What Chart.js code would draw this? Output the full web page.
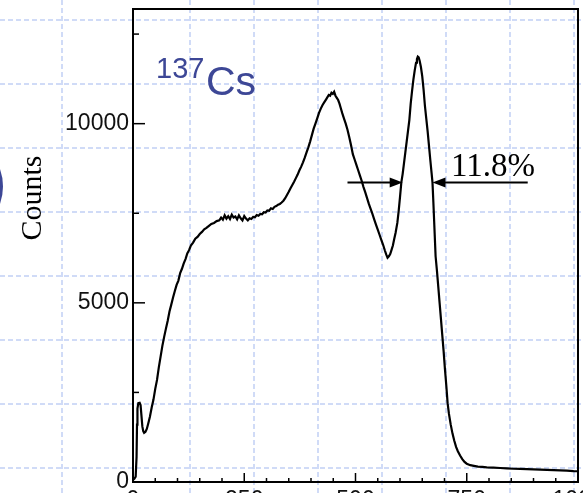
<!DOCTYPE html>
<html>
<head>
<meta charset="utf-8">
<script src="https://cdn.jsdelivr.net/npm/chart.js@4.4.1/dist/chart.umd.min.js"></script>
<style>
  html, body { margin: 0; padding: 0; background: #fff; overflow: hidden; }
  #wrap { position: relative; width: 583px; height: 520px; }
</style>
</head>
<body>
<div id="wrap"><canvas id="spectrum"></canvas></div>
<script>
// 137Cs spectrum, channel vs counts
const channels = [0, 3, 6, 8, 9, 10, 12, 15, 17, 19, 21, 23, 25, 28, 31, 34, 38, 42, 46, 50,
  54, 58, 62, 66, 70, 74, 78, 82, 86, 90, 94, 98, 102, 106, 110, 114, 118, 122, 126, 130,
  135, 140, 145, 150, 155, 160, 165, 170, 176, 182, 188, 194, 198, 202, 206, 210, 214, 218, 222, 226,
  230, 234, 238, 242, 246, 250, 254, 258, 262, 266, 270, 274, 278, 282, 286, 290, 294, 298, 302, 306,
  310, 314, 318, 322, 326, 330, 334, 338, 342, 346, 350, 354, 358, 362, 366, 370, 374, 378, 382, 386,
  390, 394, 398, 402, 406, 410, 414, 418, 422, 426, 430, 434, 437, 440, 443, 446, 449, 452, 455, 458,
  461, 464, 467, 470, 474, 478, 482, 486, 490, 494, 498, 502, 506, 510, 514, 518, 522, 526, 530, 534,
  538, 542, 546, 550, 554, 558, 562, 566, 569, 572, 575, 578, 581, 584, 587, 590, 594, 597, 600, 603,
  606, 609, 612, 615, 618, 621, 624, 627, 630, 633, 636, 638, 640, 642, 644, 647, 650, 653, 656, 659,
  662, 665, 668, 671, 673, 675, 677, 680, 683, 686, 689, 692, 695, 698, 701, 704, 707, 710, 714, 718,
  722, 726, 730, 735, 740, 745, 750, 758, 766, 775, 785, 795, 810, 825, 840, 855, 870, 885, 900, 915,
  930, 945, 960, 975, 990, 1000];
const counts = [60, 90, 150, 700, 1600, 2050, 2200, 2210, 2150, 1850, 1550, 1420, 1370, 1400, 1480, 1620, 1820, 2080, 2300, 2600,
  2850, 3200, 3500, 3800, 4050, 4280, 4500, 4760, 4950, 5150, 5330, 5500, 5620, 5830, 5950, 6100, 6220, 6380, 6470, 6600,
  6680, 6790, 6840, 6920, 6980, 7050, 7090, 7140, 7200, 7230, 7280, 7300, 7380, 7320, 7440, 7350, 7420, 7340, 7460, 7380,
  7410, 7330, 7440, 7360, 7300, 7420, 7350, 7300, 7360, 7340, 7400, 7390, 7450, 7430, 7480, 7470, 7530, 7520, 7580, 7570,
  7640, 7620, 7680, 7700, 7740, 7760, 7800, 7850, 7920, 8010, 8100, 8200, 8290, 8380, 8480, 8580, 8700, 8800, 8920, 9050,
  9200, 9340, 9500, 9680, 9860, 10000, 10150, 10300, 10420, 10520, 10600, 10680, 10740, 10800, 10780, 10860, 10830, 10890, 10780, 10720,
  10660, 10560, 10430, 10300, 10150, 10000, 9830, 9620, 9400, 9150, 9000, 8850, 8700, 8550, 8400, 8230, 8080, 7920, 7760, 7620,
  7480, 7330, 7180, 7040, 6900, 6760, 6620, 6460, 6350, 6260, 6300, 6360, 6480, 6600, 6780, 6950, 7230, 7560, 7950, 8360,
  8600, 8900, 9200, 9500, 9800, 10100, 10550, 10900, 11220, 11480, 11700, 11800, 11870, 11850, 11760, 11580, 11320, 10950, 10500, 10150,
  9800, 9400, 9000, 8620, 8360, 7800, 7200, 6300, 5900, 5450, 5000, 4550, 4100, 3650, 3150, 2700, 2200, 1900, 1600, 1350,
  1150, 980, 860, 740, 640, 560, 510, 470, 450, 430, 420, 410, 400, 390, 380, 370, 365, 360, 352, 345,
  340, 332, 325, 318, 305, 300];

// tick positions (every one gets a mark, only the listed labels get text)
const xTicks = [0, 50, 100, 150, 200, 250, 300, 350, 400, 450, 500, 550, 600, 650, 700, 750, 800, 850, 900, 950, 1000];
const xLabels = [0, 250, 500, 750, 1000];
const yTicks = [0, 2500, 5000, 7500, 10000, 12500];
const yLabels = [0, 5000, 10000];

// FWHM arrows (channel positions) and level
const fwhmLevel = 8360;
const leftArrow = [482, 606];   // from, tip
const rightArrow = [887, 673];  // from, tip
const fwhmText = '11.8%';

// slide background grid
const bgCols = [62, 190, 254, 318, 382, 446, 510, 574];
const bgRows = [20, 84, 148, 212, 276, 340, 404, 468];

const points = channels.map((c, i) => ({ x: c, y: counts[i] }));

function arrow(ctx, x0, x1, y) {
  const dir = Math.sign(x1 - x0);
  ctx.beginPath();
  ctx.moveTo(x0, y);
  ctx.lineTo(x1 - dir * 10, y);
  ctx.stroke();
  ctx.beginPath();
  ctx.moveTo(x1, y);
  ctx.lineTo(x1 - dir * 13, y - 5);
  ctx.lineTo(x1 - dir * 13, y + 5);
  ctx.closePath();
  ctx.fill();
}

const decor = {
  id: 'decor',
  beforeDraw(chart) {
    const ctx = chart.ctx;
    ctx.save();
    ctx.fillStyle = '#fff';
    ctx.fillRect(0, 0, chart.width, chart.height);
    ctx.strokeStyle = '#d0dbf7';
    ctx.lineWidth = 2;
    ctx.setLineDash([5, 3]);
    bgCols.forEach(x => {
      ctx.beginPath(); ctx.moveTo(x, 0); ctx.lineTo(x, chart.height); ctx.stroke();
    });
    bgRows.forEach(y => {
      ctx.beginPath(); ctx.moveTo(0, y); ctx.lineTo(chart.width, y); ctx.stroke();
    });
    ctx.setLineDash([]);
    // edge of the blue bullet on the slide
    ctx.fillStyle = '#3d4796';
    ctx.beginPath();
    ctx.arc(-49, 186.5, 52, 0, Math.PI * 2);
    ctx.fill();
    ctx.restore();
  },
  afterDatasetsDraw(chart) {
    const ctx = chart.ctx;
    const { left, right, top, bottom } = chart.chartArea;
    const xs = chart.scales.x, ys = chart.scales.y;
    ctx.save();
    ctx.strokeStyle = '#000';
    ctx.fillStyle = '#000';
    ctx.lineWidth = 2;
    ctx.strokeRect(left, top, right - left, bottom - top);

    // inward tick marks
    ctx.lineWidth = 1.5;
    xs.ticks.forEach(t => {
      const px = xs.getPixelForValue(t.value);
      const len = t.value % 250 === 0 ? 9 : 4;
      ctx.beginPath(); ctx.moveTo(px, bottom); ctx.lineTo(px, bottom - len); ctx.stroke();
    });
    ys.ticks.forEach(t => {
      const py = ys.getPixelForValue(t.value);
      const len = t.value % 5000 === 0 ? 12 : 6;
      ctx.beginPath(); ctx.moveTo(left, py); ctx.lineTo(left + len, py); ctx.stroke();
    });

    // FWHM arrows
    ctx.lineWidth = 2;
    const ay = ys.getPixelForValue(fwhmLevel);
    arrow(ctx, xs.getPixelForValue(leftArrow[0]), xs.getPixelForValue(leftArrow[1]), ay);
    arrow(ctx, xs.getPixelForValue(rightArrow[0]), xs.getPixelForValue(rightArrow[1]), ay);
    ctx.font = '33px "Liberation Serif", "Times New Roman", serif';
    ctx.textBaseline = 'alphabetic';
    ctx.textAlign = 'left';
    ctx.fillText(fwhmText, 451, 176);

    // isotope label
    ctx.fillStyle = '#3d4796';
    ctx.font = '29px "Liberation Sans", Arial, sans-serif';
    ctx.fillText('137', 156, 78);
    ctx.font = '41px "Liberation Sans", Arial, sans-serif';
    ctx.fillText('Cs', 206, 95);

    // y axis title
    ctx.fillStyle = '#000';
    ctx.font = '30px "Liberation Serif", "Times New Roman", serif';
    ctx.translate(41, 198);
    ctx.rotate(-Math.PI / 2);
    ctx.textAlign = 'center';
    ctx.fillText('Counts', 0, 0);
    ctx.restore();
  }
};

const tickFont = { family: '"Liberation Sans Narrow", "Liberation Sans", Arial, sans-serif', size: 23 };

new Chart(document.getElementById('spectrum'), {
  type: 'line',
  data: {
    datasets: [{
      data: points,
      borderColor: '#000',
      borderWidth: 2.2,
      pointRadius: 0,
      tension: 0,
      fill: false
    }]
  },
  options: {
    responsive: true,
    maintainAspectRatio: false,
    animation: false,
    layout: { padding: { top: 9, right: 5, left: 0, bottom: 0 } },
    plugins: { legend: { display: false }, tooltip: { enabled: false } },
    scales: {
      x: {
        type: 'linear',
        min: 0,
        max: 1000,
        grid: { display: false, drawTicks: false },
        border: { display: false },
        afterBuildTicks: s => { s.ticks = xTicks.map(v => ({ value: v })); },
        ticks: {
          autoSkip: false,
          maxRotation: 0,
          padding: 5,
          color: '#111',
          font: tickFont,
          callback: v => xLabels.includes(v) ? String(v) : ''
        },
        afterFit: s => { s.height = 38; s.paddingLeft = 0; s.paddingRight = 0; }
      },
      y: {
        min: 0,
        max: 13200,
        grid: { display: false, drawTicks: false },
        border: { display: false },
        afterBuildTicks: s => { s.ticks = yTicks.map(v => ({ value: v })); },
        ticks: {
          autoSkip: false,
          padding: 4,
          color: '#111',
          font: tickFont,
          callback: v => yLabels.includes(v) ? String(v) : ''
        },
        afterFit: s => { s.width = 133; s.paddingTop = 0; s.paddingBottom = 0; }
      }
    }
  },
  plugins: [decor]
});
</script>
</body>
</html>
